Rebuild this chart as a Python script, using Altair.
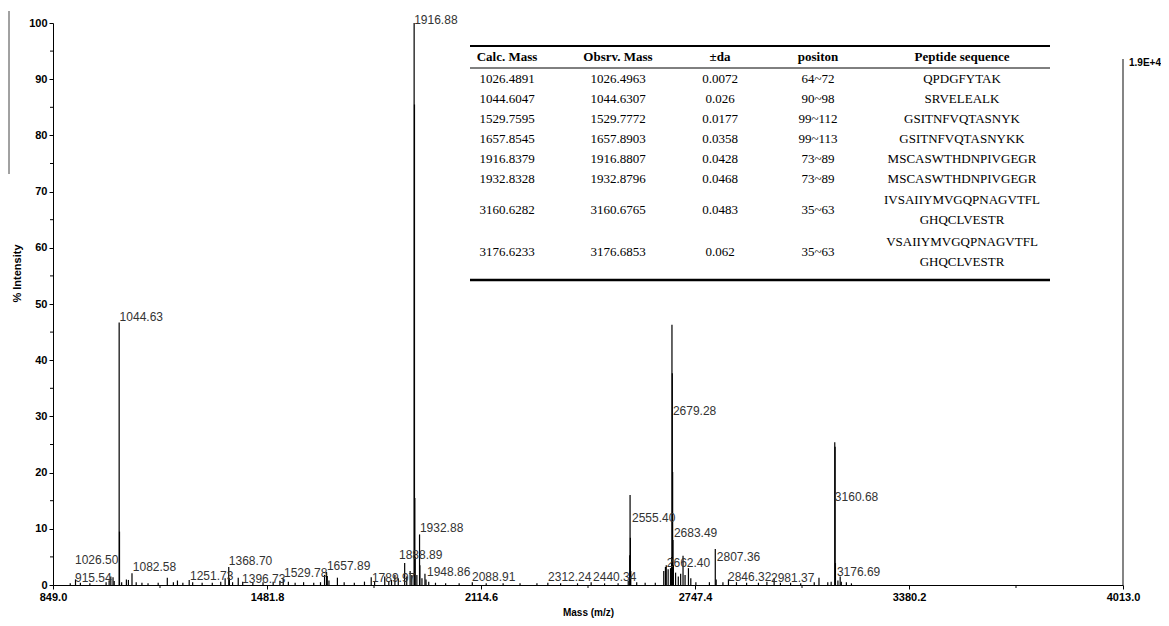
import altair as alt
import pandas as pd

# ---------------- spectrum data (m/z, % intensity) ----------------
peak_mz = [900, 915.54, 930, 958, 1006, 1015, 1020, 1026.50, 1030, 1044.63, 1045.63, 1052,
           1066, 1072, 1082.58, 1095, 1112, 1130, 1160, 1187, 1205, 1217, 1233, 1251.73,
           1262, 1290, 1320, 1345, 1358, 1368.70, 1370.7, 1380, 1396.73, 1410, 1440, 1470,
           1500, 1520, 1529.78, 1545, 1565, 1590, 1620, 1640, 1652, 1657.89, 1660, 1665,
           1690, 1710, 1740, 1770, 1789.97, 1800, 1830, 1842, 1850, 1860, 1870, 1888.89,
           1895, 1905, 1910, 1916.88, 1917.88, 1918.88, 1919.88, 1925, 1932.88, 1933.88,
           1940, 1948.86, 1952, 1960, 1980, 2010, 2050, 2088.91, 2130, 2180, 2230, 2280,
           2312.24, 2350, 2400, 2440.34, 2480, 2520, 2550, 2554.40, 2555.40, 2556.40,
           2557.40, 2575, 2600, 2630, 2655, 2660, 2662.40, 2668, 2675, 2678.28, 2679.28,
           2680.28, 2681.28, 2682.28, 2683.49, 2690, 2698, 2705, 2712, 2718, 2728, 2735,
           2750, 2790, 2807.36, 2810, 2830, 2846.32, 2870, 2900, 2935, 2960, 2981.37, 3000,
           3030, 3060, 3100, 3114, 3140, 3150, 3160.68, 3161.68, 3162.68, 3170, 3176.69,
           3180, 3195, 3210]
peak_int = [0.3, 1.0, 0.4, 0.3, 0.5, 0.8, 1.5, 1.4, 0.7, 46.7, 9.5, 0.5,
            1.0, 0.9, 2.1, 0.5, 0.4, 0.3, 0.4, 1.3, 0.5, 0.8, 0.4, 0.9,
            0.5, 0.4, 0.4, 0.6, 1.2, 3.2, 1.2, 0.5, 1.3, 0.6, 0.4, 0.5,
            0.6, 0.7, 1.1, 0.6, 0.4, 0.5, 0.4, 0.5, 1.8, 2.3, 1.6, 0.8,
            1.3, 0.5, 0.4, 0.6, 1.4, 0.6, 1.5, 0.7, 0.9, 1.8, 1.2, 3.9,
            1.5, 2.5, 1.8, 100.0, 85.5, 15.5, 5.0, 1.8, 9.0, 3.5,
            1.2, 2.0, 1.0, 0.6, 0.4, 0.3, 0.3, 0.5, 0.3, 0.3, 0.3, 0.3,
            0.4, 0.3, 0.3, 0.5, 0.3, 0.3, 0.8, 5.3, 16.0, 8.4,
            2.5, 0.5, 0.4, 0.4, 2.5, 3.2, 3.5, 2.8, 3.0, 5.0, 46.3,
            37.7, 20.1, 8.0, 3.5, 2.2, 1.5, 2.0, 5.2, 1.8, 3.0, 1.2,
            0.5, 0.5, 6.4, 1.0, 0.5, 1.0, 0.5, 0.4, 0.4, 0.6, 1.2, 0.4,
            0.4, 0.3, 0.5, 1.3, 0.5, 0.6, 25.4, 24.6, 3.9, 0.8, 1.5,
            0.6, 0.5, 0.3]

# peak annotations: text, left edge (m/z), vertical centre (%)
label_text = ["915.54", "1026.50", "1044.63", "1082.58", "1251.73", "1368.70", "1396.73",
              "1529.78", "1657.89", "1789.97", "1888.89", "1916.88", "1932.88", "1948.86",
              "2088.91", "2312.24", "2440.34", "2555.40", "2679.28", "2683.49", "2662.40",
              "2807.36", "2846.32", "2981.37", "3160.68", "3176.69"]
label_mz = [914, 914, 1046, 1085, 1254, 1369, 1408,
            1532, 1659, 1792, 1872, 1917, 1934, 1955,
            2088, 2313, 2446, 2561, 2682, 2685, 2664,
            2812, 2845, 2972, 3161, 3167]
label_y = [1.2, 4.4, 47.7, 3.2, 1.6, 4.3, 1.1,
           2.1, 3.4, 1.2, 5.3, 100.6, 10.1, 2.3,
           1.4, 1.4, 1.4, 11.9, 31.0, 9.3, 3.9,
           5.0, 1.4, 1.2, 15.7, 2.3]

x_ticks = [849.0, 1481.8, 2114.6, 2747.4, 3380.2, 4013.0]
x_minor = [1165.4, 1798.2, 2431.0, 3063.8, 3696.6]
y_ticks = [0, 10, 20, 30, 40, 50, 60, 70, 80, 90, 100]
y_minor = [5, 15, 25, 35, 45, 55, 65, 75, 85, 95]

# ---------------- table data ----------------
headers = ["Calc. Mass", "Obsrv. Mass", "±da", "positon", "Peptide sequence"]
calc_mass = ["1026.4891", "1044.6047", "1529.7595", "1657.8545", "1916.8379", "1932.8328",
             "3160.6282", "3176.6233"]
obs_mass = ["1026.4963", "1044.6307", "1529.7772", "1657.8903", "1916.8807", "1932.8796",
            "3160.6765", "3176.6853"]
delta_da = ["0.0072", "0.026", "0.0177", "0.0358", "0.0428", "0.0468", "0.0483", "0.062"]
position = ["64~72", "90~98", "99~112", "99~113", "73~89", "73~89", "35~63", "35~63"]
peptide = ["QPDGFYTAK", "SRVELEALK", "GSITNFVQTASNYK", "GSITNFVQTASNYKK",
           "MSCASWTHDNPIVGEGR", "MSCASWTHDNPIVGEGR",
           "IVSAIIYMVGQPNAGVTFL\nGHQCLVESTR", "VSAIIYMVGQPNAGVTFL\nGHQCLVESTR"]

W, H = 1070, 562
LINE = 20

# ---------------- table layout (pixels in plot coordinates) ----------------
col_x = [454, 565, 667, 765, 909]
tbl_left, tbl_right = 417, 997
header_y = 34
rows = []
top = 46
for i in range(len(calc_mass)):
    n = len(peptide[i].split("\n"))
    h = n * LINE + (2 if n > 1 else 0)
    cy = top + h / 2
    for j, val in enumerate([calc_mass[i], obs_mass[i], delta_da[i], position[i], peptide[i]]):
        nl = len(val.split("\n"))
        rows.append({"px": col_x[j], "py": cy - (nl - 1) * LINE / 2, "t": val})
    top += h
bottom_y = top + 7
tbl_df = pd.DataFrame(rows)
hdr_df = pd.DataFrame({"px": col_x, "py": [header_y] * 5, "t": headers})
rule_df = pd.DataFrame({"x1": [tbl_left] * 3, "x2": [tbl_right] * 3,
                        "y": [23, 45, bottom_y], "w": [2.2, 1.0, 2.6]})

spec_df = pd.DataFrame({"mz": peak_mz, "inten": peak_int})
lab_df = pd.DataFrame({"mz": label_mz, "y": label_y, "t": label_text})

xscale = alt.Scale(domain=[849, 4013], nice=False, zero=False)
yscale = alt.Scale(domain=[0, 100], nice=False)

AX_FONT = "Liberation Sans"

spectrum = alt.Chart(spec_df).mark_rule(color="black", strokeWidth=1.2).encode(
    x=alt.X("mz:Q", scale=xscale,
            axis=alt.Axis(values=x_ticks, format=".1f", title="Mass (m/z)", grid=False,
                          labelFlush=False, labelOverlap=False, tickSize=4, labelPadding=2,
                          labelFont=AX_FONT, labelFontSize=11, labelFontWeight="bold",
                          labelColor="black", titleFont=AX_FONT, titleFontSize=10,
                          titleFontWeight="bold", titleColor="black", titleY=27,
                          titleBaseline="middle", domainColor="black", tickColor="black")),
    y=alt.Y("inten:Q", scale=yscale,
            axis=alt.Axis(values=y_ticks, title="% Intensity", grid=False, tickSize=4,
                          labelPadding=2, labelFont=AX_FONT, labelFontSize=11,
                          labelFontWeight="bold", labelColor="black", titleFont=AX_FONT,
                          titleFontSize=11, titleFontWeight="bold", titleColor="black",
                          titleX=-36, titleY=250, titleAngle=270, titleAlign="center",
                          titleBaseline="middle", domainColor="black", tickColor="black")),
    y2=alt.datum(0),
)

xminor = alt.Chart(pd.DataFrame({"mz": x_minor})).mark_rule(color="black", strokeWidth=1).encode(
    x=alt.X("mz:Q", scale=xscale), y=alt.value(H), y2=alt.value(H + 3))
yminor = alt.Chart(pd.DataFrame({"v": y_minor})).mark_rule(color="black", strokeWidth=1).encode(
    y=alt.Y("v:Q", scale=yscale), x=alt.value(0), x2=alt.value(-3))

labels = alt.Chart(lab_df).mark_text(align="left", baseline="middle", font=AX_FONT,
                                     fontSize=12, color="#333333").encode(
    x=alt.X("mz:Q", scale=xscale), y=alt.Y("y:Q", scale=yscale), text="t:N")

right_rule = alt.Chart(pd.DataFrame({"a": [0]})).mark_rule(color="#333333", strokeWidth=1.2).encode(
    x=alt.value(W), y=alt.value(36), y2=alt.value(H))
scale_txt = alt.Chart(pd.DataFrame({"t": ["1.9E+4"]})).mark_text(
    align="left", baseline="middle", font=AX_FONT, fontSize=10, fontWeight="bold",
    color="black").encode(x=alt.value(W + 6), y=alt.value(40), text="t:N")
stray = alt.Chart(pd.DataFrame({"a": [0]})).mark_rule(color="#444444", strokeWidth=1).encode(
    x=alt.value(-44), y=alt.value(-12), y2=alt.value(151))

tbl_rules = alt.Chart(rule_df).mark_rule(color="black").encode(
    x=alt.X("x1:Q", scale=None), x2="x2:Q", y=alt.Y("y:Q", scale=None),
    strokeWidth=alt.StrokeWidth("w:Q", scale=None))
tbl_hdr = alt.Chart(hdr_df).mark_text(align="center", baseline="middle",
                                      font="Liberation Serif", fontSize=13,
                                      fontWeight="bold", color="black").encode(
    x=alt.X("px:Q", scale=None), y=alt.Y("py:Q", scale=None), text="t:N")
tbl_body = alt.Chart(tbl_df).mark_text(align="center", baseline="middle",
                                       font="Liberation Serif", fontSize=13,
                                       lineBreak="\n", lineHeight=LINE, color="black").encode(
    x=alt.X("px:Q", scale=None), y=alt.Y("py:Q", scale=None), text="t:N")

chart = alt.layer(spectrum, xminor, yminor, labels, right_rule, scale_txt, stray,
                  tbl_rules, tbl_hdr, tbl_body).properties(
    width=W, height=H,
    background="white",
    autosize=alt.AutoSizeParams(type="none"),
    padding={"left": 45, "top": 15, "right": 38, "bottom": 33},
).configure_view(strokeWidth=0, strokeOpacity=0)

chart.save("out.html", embed_options={"renderer": "svg", "actions": False})
